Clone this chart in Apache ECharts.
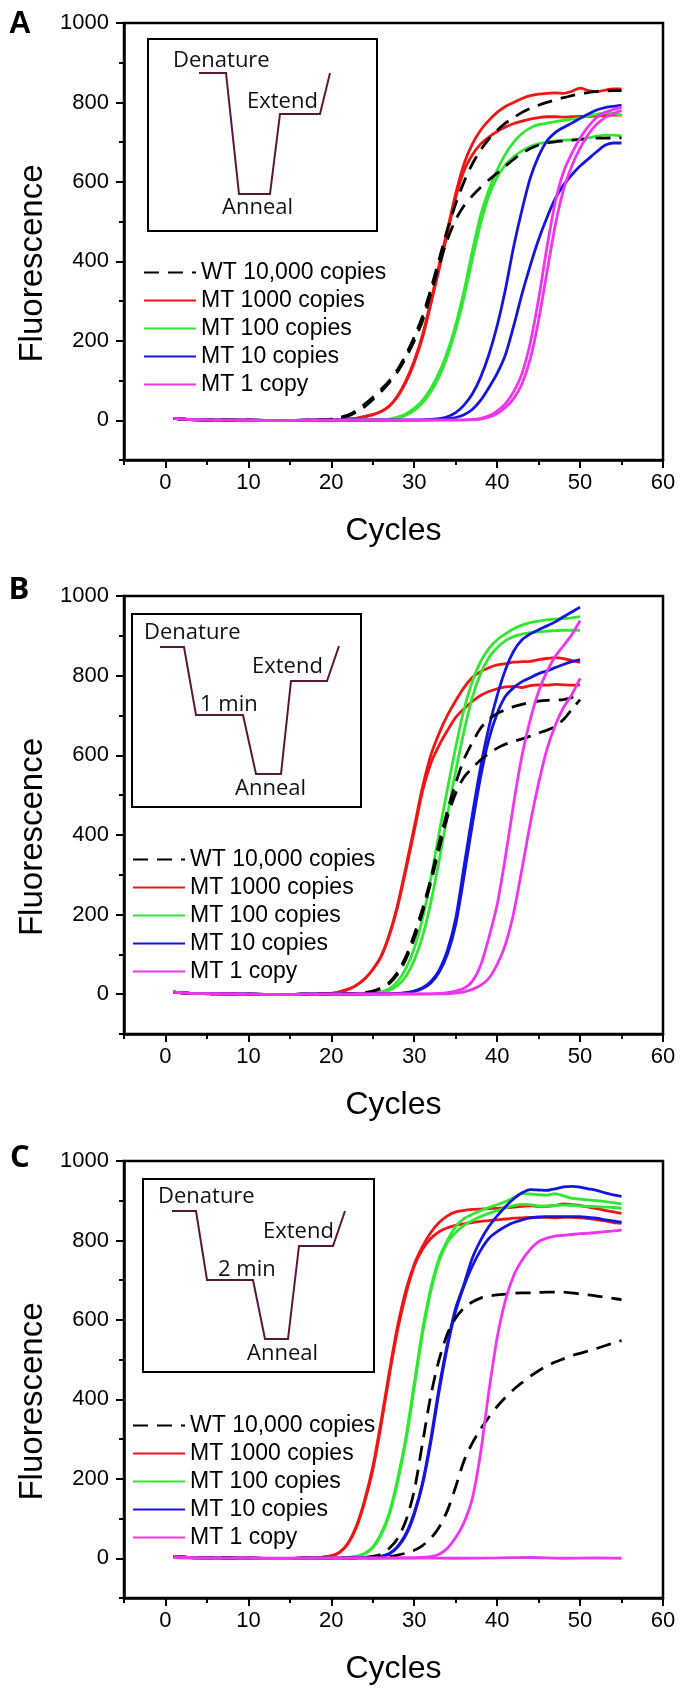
<!DOCTYPE html>
<html>
<head>
<meta charset="utf-8">
<script src="https://cdn.jsdelivr.net/npm/echarts@6.0.0/dist/echarts.min.js"></script>
<style>
  html, body { margin: 0; padding: 0; background: #fff; }
  #chart { width: 685px; height: 1694px; }
</style>
</head>
<body>
<div id="chart"></div>
<script>
// legend entries and their colours
const names = ['WT 10,000 copies', 'MT 1000 copies', 'MT 100 copies', 'MT 10 copies', 'MT 1 copy']
const colors = ['#000000', '#f01616', '#30e830', '#1515e0', '#f034f0']

// axis ticks: [min, max, minor step] and the labelled (long) ticks
const xTicks = [-5, 60, 5]
const yTicks = [-100, 1000, 100]
const xMajor = [0, 10, 20, 30, 40, 50, 60]
const yMajor = [0, 200, 400, 600, 800, 1000]

// flat start shared by every trace (cycle, fluorescence)
const baseline = [[1, 5], [3, 2], [6, 1], [10, 0], [14, -1], [17, 0]]

// ---- panel A: values from the first rising cycle on ----
const aWt1 = [3, 7, 13, 24, 40, 58, 78, 100, 128, 165, 210, 262, 330, 405, 480, 545, 600, 645, 680, 708, 730, 748, 762, 775, 785, 793, 800, 806, 812, 817, 822, 825, 828, 829, 830, 830]
const aWt2 = [2, 5, 10, 20, 34, 52, 72, 95, 122, 158, 200, 250, 318, 390, 455, 505, 540, 565, 586, 605, 622, 640, 657, 672, 684, 693, 698, 701, 703, 705, 707, 708, 710, 710, 711, 711]
const aRed1 = [1, 3, 5, 9, 14, 22, 36, 62, 100, 150, 215, 300, 390, 480, 570, 645, 695, 730, 755, 775, 790, 800, 810, 817, 821, 823, 824, 823, 828, 836, 830, 827, 831, 834, 834]
const aRed2 = [1, 3, 5, 9, 14, 22, 36, 60, 96, 145, 208, 292, 380, 470, 560, 628, 668, 695, 713, 727, 738, 747, 753, 758, 762, 764, 764, 763, 764, 765, 765, 766, 767, 768, 768]
const aGreen1 = [1, 3, 8, 16, 30, 50, 80, 120, 172, 240, 325, 425, 515, 580, 630, 670, 700, 722, 736, 744, 748, 752, 755, 758, 762, 766, 770, 774, 772, 768]
const aGreen2 = [2, 6, 13, 25, 44, 72, 110, 162, 228, 310, 405, 495, 565, 612, 643, 663, 678, 689, 696, 700, 703, 705, 706, 708, 711, 715, 718, 718, 716]
const aBlue1 = [1, 2, 4, 9, 19, 38, 66, 108, 165, 238, 330, 438, 530, 610, 665, 703, 724, 737, 748, 760, 771, 781, 787, 790, 793]
const aBlue2 = [1, 2, 4, 7, 14, 27, 50, 82, 118, 165, 238, 318, 390, 455, 510, 558, 592, 618, 640, 658, 676, 692, 698, 698]
const aMag1 = [1, 2, 5, 11, 23, 42, 72, 118, 195, 305, 435, 548, 625, 672, 710, 740, 762, 775, 782, 788]
const aMag2 = [1, 3, 8, 17, 32, 55, 92, 155, 252, 372, 490, 580, 640, 685, 720, 745, 762, 772, 780]

// ---- panel B ----
const bWt1 = [2, 4, 8, 16, 30, 55, 95, 150, 215, 290, 380, 460, 530, 590, 632, 668, 690, 705, 714, 722, 728, 733, 736, 738, 739, 740, 745, 752]
const bWt2 = [1, 3, 7, 14, 27, 50, 88, 140, 205, 280, 365, 445, 505, 545, 568, 588, 605, 618, 628, 635, 641, 648, 656, 663, 672, 690, 715, 740]
const bRed1 = [1, 2, 6, 12, 22, 38, 62, 95, 150, 225, 320, 420, 520, 600, 655, 700, 737, 770, 795, 810, 820, 827, 830, 834, 835, 836, 840, 843, 845, 843, 838, 833]
const bRed2 = [1, 2, 6, 12, 22, 38, 62, 95, 148, 220, 312, 410, 510, 580, 625, 662, 695, 717, 735, 750, 760, 767, 772, 773, 770, 775, 777, 776, 778, 777, 776, 777]
const bGreen1 = [1, 2, 6, 14, 32, 65, 115, 190, 290, 405, 515, 620, 715, 785, 835, 868, 890, 905, 918, 927, 933, 937, 940, 942, 943, 945, 948]
const bGreen2 = [1, 4, 10, 22, 45, 85, 145, 230, 335, 450, 560, 660, 745, 805, 845, 870, 888, 898, 904, 908, 910, 912, 913, 914, 914, 914]
const bBlue1 = [1, 2, 4, 8, 16, 32, 60, 110, 190, 320, 450, 570, 670, 750, 815, 862, 890, 905, 915, 925, 935, 948, 960, 972]
const bBlue2 = [1, 2, 3, 7, 14, 28, 55, 100, 175, 295, 425, 545, 640, 705, 748, 770, 785, 795, 805, 812, 820, 828, 835, 840]
const bMag1 = [1, 2, 4, 8, 15, 32, 72, 142, 225, 345, 480, 600, 690, 760, 810, 848, 875, 903, 938]
const bMag2 = [1, 3, 6, 12, 22, 40, 75, 125, 205, 315, 430, 530, 615, 675, 720, 752, 793]

// ---- panel C ----
const cWt1 = [1, 2, 5, 10, 25, 50, 95, 170, 290, 410, 500, 565, 605, 630, 645, 655, 660, 663, 665, 667, 668, 668, 669, 670, 670, 670, 668, 665, 663, 660, 657, 654, 651]
const cWt2 = [1, 2, 4, 8, 13, 20, 32, 50, 78, 120, 180, 245, 290, 325, 355, 382, 405, 425, 442, 458, 472, 484, 494, 502, 510, 516, 522, 528, 535, 542, 548]
const cRed1 = [0, 1, 2, 3, 6, 15, 38, 80, 145, 230, 345, 470, 585, 675, 740, 785, 820, 845, 862, 872, 876, 878, 879, 880, 881, 882, 884, 886, 887, 886, 886, 888, 892, 890, 888, 884, 880, 876, 872, 868]
const cRed2 = [0, 1, 2, 3, 6, 15, 36, 76, 140, 222, 335, 460, 575, 665, 735, 778, 805, 822, 832, 838, 842, 845, 848, 850, 852, 854, 856, 857, 858, 858, 858, 857, 858, 858, 857, 855, 852, 849, 845, 843]
const cGreen1 = [1, 1, 2, 5, 12, 28, 62, 115, 200, 305, 440, 575, 680, 755, 800, 835, 855, 866, 875, 883, 890, 898, 908, 918, 917, 915, 914, 918, 912, 906, 904, 902, 900, 898, 895, 892]
const cGreen2 = [1, 1, 2, 5, 11, 26, 58, 110, 192, 296, 430, 565, 672, 748, 795, 820, 838, 850, 860, 868, 875, 882, 888, 891, 890, 887, 887, 888, 889, 888, 887, 886, 885, 884, 883, 881]
const cBlue1 = [1, 2, 3, 5, 12, 30, 62, 115, 190, 300, 430, 540, 630, 690, 755, 800, 835, 862, 885, 905, 920, 928, 927, 926, 930, 935, 936, 934, 930, 926, 920, 915, 911]
const cBlue2 = [1, 2, 3, 5, 11, 28, 58, 110, 185, 292, 420, 532, 622, 685, 735, 775, 805, 822, 835, 845, 852, 857, 859, 860, 860, 860, 860, 860, 858, 856, 852, 849, 846]
const cMag1 = [1, 1, 2, 4, 10, 25, 52, 90, 150, 265, 420, 555, 650, 712, 750, 778, 797, 806, 811, 813, 815, 817, 818, 820, 822, 824, 826]
const cMag2Flat = [[1, 2], [5, 0], [10, 1], [15, 0], [20, 1], [25, 0], [30, 1], [35, 0], [40, 1], [44, 2], [48, 0], [52, 1], [55, 0]]

// [legend index, first rising cycle, values]
const panelA = [
  [1, 21, aRed1], [1, 21, aRed2], [2, 26, aGreen1], [2, 27, aGreen2],
  [3, 31, aBlue1], [3, 32, aBlue2], [0, 20, aWt1], [0, 20, aWt2],
  [4, 36, aMag1], [4, 37, aMag2]
]
const panelB = [
  [1, 19, bRed1], [1, 19, bRed2], [2, 24, bGreen1], [2, 25, bGreen2],
  [3, 27, bBlue1], [3, 27, bBlue2], [0, 23, bWt1], [0, 23, bWt2],
  [4, 32, bMag1], [4, 34, bMag2]
]
const panelC = [
  [1, 16, cRed1], [1, 16, cRed2], [2, 20, cGreen1], [2, 20, cGreen2],
  [3, 23, cBlue1], [3, 23, cBlue2], [0, 23, cWt1], [0, 25, cWt2],
  [4, 29, cMag1]
]

function toPoints(start, values) {
  const pts = baseline.filter((p) => p[0] < start)
  values.forEach((v, i) => pts.push([start + i, v]))
  return pts
}

const font = 'Liberation Sans'
const inkColor = '#5a1838'

const grids = [
  { left: 124, top: 23, width: 539, height: 437 },
  { left: 124, top: 596, width: 539, height: 438 },
  { left: 124, top: 1161, width: 539, height: 437 }
]
const legendPos = [
  { left: 143, top: 261 },
  { left: 132, top: 848 },
  { left: 132, top: 1414 }
]

const chart = echarts.init(document.getElementById('chart'))

const series = []
;[panelA, panelB, panelC].forEach((panel, gi) => {
  panel.forEach(([k, start, values]) => {
    series.push(makeLine(gi, k, toPoints(start, values)))
  })
})
series.push(makeLine(2, 4, cMag2Flat))

function makeLine(gi, k, data) {
  return {
    type: 'line',
    name: names[k],
    xAxisIndex: gi,
    yAxisIndex: gi,
    data: data,
    symbol: 'none',
    smooth: 0.25,
    silent: true,
    itemStyle: { color: colors[k] },
    lineStyle: {
      color: colors[k],
      width: 2.8,
      type: k === 0 ? [15, 9] : 'solid'
    }
  }
}

// inset boxes with the thermal profile sketch
function inset(box, pts, labels) {
  const els = [{
    type: 'rect',
    shape: box,
    style: { fill: '#fff', stroke: '#000', lineWidth: 2 },
    z: 10
  }, {
    type: 'polyline',
    shape: { points: pts },
    style: { stroke: inkColor, lineWidth: 2, fill: null },
    z: 11
  }]
  labels.forEach(([t, x, y]) => {
    els.push({
      type: 'text', x: x, y: y, z: 12,
      style: {
        text: t, fontSize: 22, fontFamily: 'Open Sans', fill: '#111',
        align: 'left', verticalAlign: 'middle'
      }
    })
  })
  return els
}

const graphic = [
  ...inset({ x: 148, y: 39, width: 229, height: 192 },
    [[199, 73], [226, 73], [239, 194], [270, 194], [280, 114], [320, 114], [330, 73]],
    [['Denature', 173, 61], ['Extend', 247, 102], ['Anneal', 222, 208]]),
  ...inset({ x: 132, y: 614, width: 229, height: 193 },
    [[160, 647], [184, 647], [196, 715], [243, 715], [256, 774], [281, 774], [291, 681], [327, 681], [339, 646]],
    [['Denature', 144, 633], ['1 min', 200, 705], ['Extend', 252, 667], ['Anneal', 235, 789]]),
  ...inset({ x: 143, y: 1179, width: 231, height: 193 },
    [[172, 1211], [196, 1211], [207, 1280], [253, 1280], [265, 1339], [288, 1339], [299, 1246], [333, 1246], [345, 1211]],
    [['Denature', 158, 1197], ['2 min', 218, 1270], ['Extend', 263, 1232], ['Anneal', 247, 1354]])
]
// panel letters
;[['A', 20, 24, font], ['B', 19, 590, 'Open Sans'], ['C', 20, 1158, 'Open Sans']].forEach(([t, x, y, f]) => {
  graphic.push({
    type: 'text', x: x, y: y,
    style: {
      text: t, fontSize: 31, fontWeight: 'bold', fontFamily: f, fill: '#000',
      align: 'center', verticalAlign: 'middle'
    }
  })
})

const labelStyle = { fontSize: 22, fontFamily: font, color: '#000' }

// main axes (short ticks on every step, labels on the long ones)
const xMain = grids.map((g, i) => ({
  type: 'value',
  gridIndex: i,
  min: xTicks[0],
  max: xTicks[1],
  interval: xTicks[2],
  name: 'Cycles',
  nameLocation: 'middle',
  nameGap: 55,
  nameTextStyle: { fontSize: 32, fontFamily: font, color: '#000' },
  axisLine: { onZero: false, lineStyle: { color: '#000', width: 2.5 } },
  axisTick: { length: 5, lineStyle: { color: '#000', width: 2 } },
  axisLabel: { ...labelStyle, formatter: (v) => (xMajor.includes(v) ? v : ''), margin: 12 },
  splitLine: { show: false }
}))
const yMain = grids.map((g, i) => ({
  type: 'value',
  gridIndex: i,
  min: yTicks[0],
  max: yTicks[1],
  interval: yTicks[2],
  name: 'Fluorescence',
  nameLocation: 'middle',
  nameRotate: 90,
  nameGap: 74,
  nameTextStyle: { fontSize: 33, fontFamily: font, color: '#000', padding: [0, 44, 0, 0] },
  axisLine: { onZero: false, lineStyle: { color: '#000', width: 2.5 } },
  axisTick: { length: 5, lineStyle: { color: '#000', width: 2 } },
  axisLabel: { ...labelStyle, formatter: (v) => (yMajor.includes(v) ? v : ''), margin: 15 },
  splitLine: { show: false }
}))
// overlay axes that only draw the longer major ticks
const xLong = grids.map((g, i) => ({
  type: 'value', gridIndex: i, position: 'bottom',
  min: xTicks[0], max: xTicks[1], interval: xTicks[2],
  axisLine: { show: false, onZero: false },
  axisTick: { customValues: xMajor, length: 8, lineStyle: { color: '#000', width: 2 } },
  axisLabel: { show: false },
  splitLine: { show: false }
}))
const yLong = grids.map((g, i) => ({
  type: 'value', gridIndex: i, position: 'left',
  min: yTicks[0], max: yTicks[1], interval: yTicks[2],
  axisLine: { show: false, onZero: false },
  axisTick: { customValues: yMajor, length: 8, lineStyle: { color: '#000', width: 2 } },
  axisLabel: { show: false },
  splitLine: { show: false }
}))

const option = {
  animation: false,
  backgroundColor: '#fff',
  grid: grids.map((g) => ({ ...g, show: true, borderColor: '#000', borderWidth: 2.5, backgroundColor: 'transparent' })),
  legend: legendPos.map((p) => ({
    ...p,
    data: names,
    orient: 'vertical',
    padding: 0,
    itemWidth: 52,
    itemHeight: 14,
    itemGap: 5,
    selectedMode: false,
    itemStyle: { opacity: 0, borderWidth: 0 },
    textStyle: { fontSize: 23, fontFamily: font, color: '#000' }
  })),
  xAxis: [...xMain, ...xLong],
  yAxis: [...yMain, ...yLong],
  graphic: graphic,
  series: series
}

chart.setOption(option)
</script>
</body>
</html>
